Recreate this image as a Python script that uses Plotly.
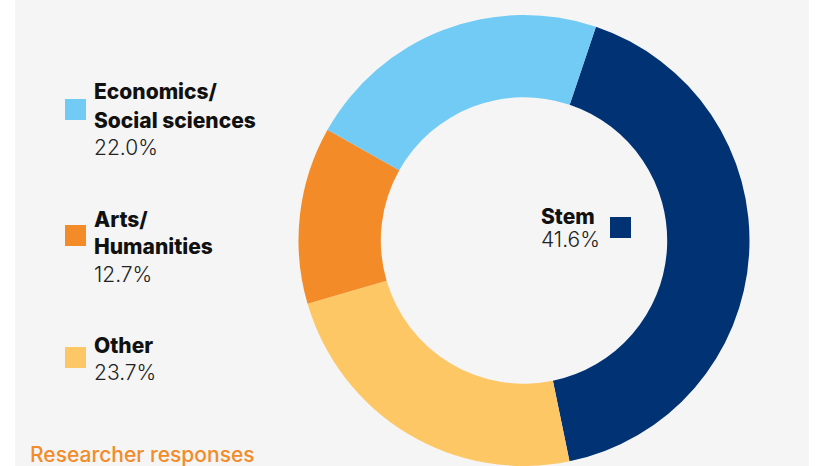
import plotly.graph_objects as go

# Share of researcher responses by field
categories = ["Stem", "Other", "Arts/Humanities", "Economics/Social sciences"]
shares = [41.6, 23.7, 12.7, 22.0]
colors = ["#003274", "#fdc766", "#f28b28", "#71cbf4"]
footnote = "Researcher responses"

W, H = 824, 466
M_TOP = 15
PLOT_H = H - M_TOP
FONT = "Inter, 'Noto Sans', sans-serif"


def px(x):
    return x / W


def py(y):
    return (H - y) / PLOT_H


fig = go.Figure()
fig.add_trace(go.Pie(
    labels=categories,
    values=shares,
    marker=dict(colors=colors, line=dict(width=0)),
    sort=False,
    direction="clockwise",
    rotation=18.6,
    hole=0.635,
    textinfo="none",
    hovertemplate="%{label}: %{value:.1f}%<extra></extra>",
    domain=dict(x=[px(524 - 226), px(524 + 226)], y=[0, 1]),
    showlegend=False,
))

shapes = [dict(type="rect", xref="paper", yref="paper",
               x0=px(15), x1=px(809), y0=py(H), y1=py(0),
               fillcolor="#f5f5f5", line=dict(width=0), layer="below")]
annotations = []


def text(x, y, s, size=21, weight=400, color="#111111"):
    annotations.append(dict(
        x=px(x), y=py(y), xref="paper", yref="paper",
        xanchor="left", yanchor="middle", showarrow=False, text=s,
        font=dict(family=FONT, size=size, weight=weight, color=color),
    ))


def swatch(x, y, color, size=21):
    shapes.append(dict(type="rect", xref="paper", yref="paper",
                       x0=px(x), x1=px(x + size), y0=py(y + size), y1=py(y),
                       fillcolor=color, line=dict(width=0)))


# Key on the left: one block per field, top to bottom
key_layout = {
    "Economics/Social sciences": (99, [91.5, 120.5], 147.5),
    "Arts/Humanities": (225, [219.5, 246.5], 274.5),
    "Other": (347, [345.5], 372.5),
}
for name, (sq_y, name_ys, pct_y) in key_layout.items():
    i = categories.index(name)
    swatch(65, sq_y, colors[i])
    parts = name.split("/")
    lines = [p + "/" for p in parts[:-1]] + [parts[-1]]
    for line, ly in zip(lines, name_ys):
        text(92, ly, line, weight=800)
    text(92, pct_y, f"{shares[i]:.1f}%", weight=300, color="#222222")

# Label inside the ring for the largest field
stem = categories.index("Stem")
text(539, 216.5, categories[stem], size=21, weight=800)
text(539, 239, f"{shares[stem]:.1f}%", size=21, weight=300, color="#222222")
swatch(610, 217, colors[stem])

text(28, 454.5, footnote, size=21, weight=500, color="#f28b28")

fig.update_layout(
    width=W, height=H,
    margin=dict(l=0, r=0, t=M_TOP, b=0),
    paper_bgcolor="#ffffff",
    plot_bgcolor="#f5f5f5",
    shapes=shapes,
    annotations=annotations,
)

fig.write_html("out.html")
